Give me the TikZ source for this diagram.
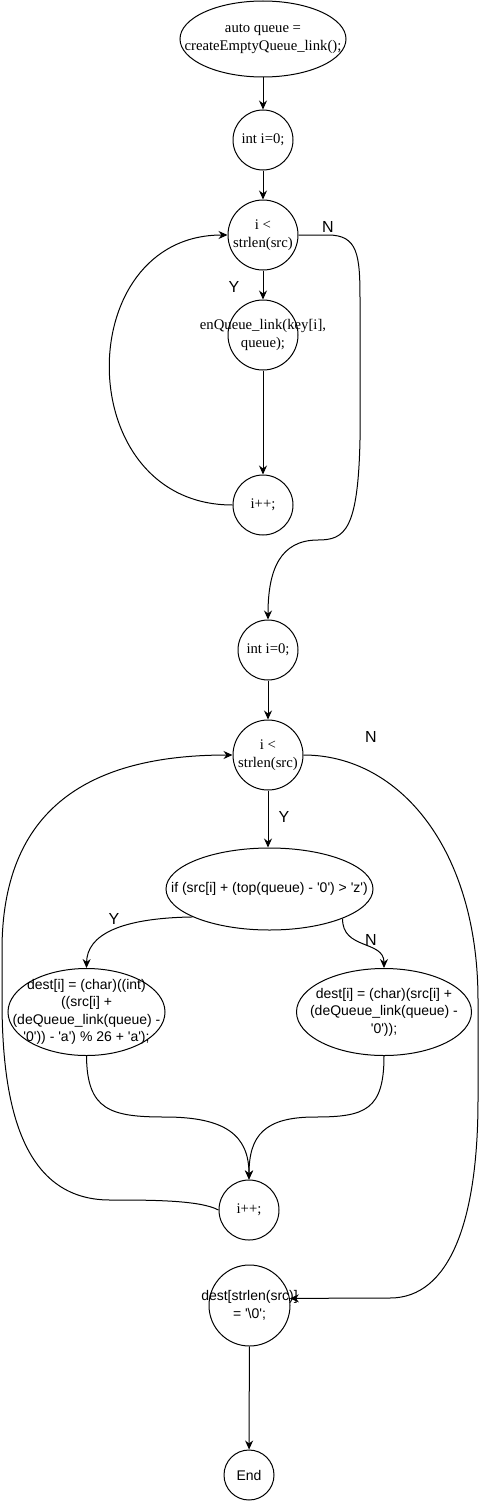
\documentclass[tikz,border=0pt]{standalone}
\usepackage{fontspec}
\setmainfont{Liberation Serif}
\setsansfont{Liberation Sans}
\usepackage{tikz}
\usetikzlibrary{shapes.geometric, arrows.meta, positioning}
\newcommand{\sq}{\textquotesingle}
\tikzset{
    stepcircle/.style={
        circle, draw, line width=1pt, minimum size=#1, inner sep=0pt
    },
    stepellipse/.style 2 args={
        ellipse, draw, line width=1pt, minimum width=#1, minimum height=#2, inner sep=0pt
    },
    seriftxt/.style={
        font=\fontsize{14.7}{17.5}\selectfont, align=center
    },
    sanstxt/.style={
        font=\sffamily\fontsize{14}{17.5}\selectfont, align=center
    },
    flowptr/.style={
        -{Stealth[length=9pt,width=8pt]}, line width=1pt
    },
    branchlbl/.style={
        font=\sffamily\fontsize{16}{18}\selectfont, inner sep=0pt
    }
}

\begin{document}
\begin{tikzpicture}[x=1pt, y=-1pt]
\useasboundingbox (0,0) rectangle (482,1501);
% push loop
\node[stepellipse={166pt}{76pt}, label={[seriftxt]center:{auto queue =\\createEmptyQueue\_link();}}] (create) at (263,39) {};
\node[stepcircle=60pt, label={[seriftxt]center:{int i=0;}}] (initA) at (263,140) {};
\node[stepcircle=70pt, label={[seriftxt]center:{i <\\strlen(src)}}] (condA) at (263,235) {};
\node[stepcircle=70pt, label={[seriftxt]center:{enQueue\_link(key[i],\\queue);}}] (enq) at (263,335) {};
\node[stepcircle=60pt, label={[seriftxt]center:{i++;}}] (incA) at (263,505) {};
\node[branchlbl] (yesA) at (234,287) {Y};
\node[branchlbl] (noA) at (328,227) {N};
\draw[flowptr] (create) -- (initA);
\draw[flowptr] (initA) -- (condA);
\draw[flowptr] (condA) -- (enq);
\draw[flowptr] (enq) -- (incA);
\draw[flowptr] (incA.west) .. controls (70,505) and (70,235) .. (condA.west);
% decode loop
\node[stepcircle=60pt, label={[seriftxt]center:{int i=0;}}] (initB) at (268,650) {};
\node[stepcircle=70pt, label={[seriftxt]center:{i <\\strlen(src)}}] (condB) at (268,755) {};
\node[stepellipse={207pt}{82pt}, label={[sanstxt]center:{if (src[i] + (top(queue) - \sq0\sq) > \sq z\sq)}}] (iftop) at (269.5,889) {};
\node[stepellipse={157pt}{87pt}, label={[sanstxt]center:{dest[i] = (char)((int)\\((src[i] +\\(deQueue\_link(queue) -\\\sq0\sq)) - \sq a\sq) \% 26 + \sq a\sq);}}] (wrapdest) at (86.5,1012) {};
\node[stepellipse={175pt}{87pt}, label={[sanstxt]center:{dest[i] = (char)(src[i] +\\(deQueue\_link(queue) -\\\sq0\sq));}}] (plaindest) at (384,1012) {};
\node[stepcircle=60pt, label={[seriftxt]center:{i++;}}] (incB) at (249,1210) {};
\node[stepcircle=81pt, label={[sanstxt]center:{dest[strlen(src)]\\= \sq\textbackslash0\sq;}}] (term) at (249.5,1305.5) {};
\node[stepcircle=50pt, label={[sanstxt]center:{End}}] (finish) at (249,1475) {};
\node[branchlbl] (noB) at (371,737) {N};
\node[branchlbl] (yesB) at (284,817) {Y};
\node[branchlbl] (yesC) at (114,919) {Y};
\node[branchlbl] (noC) at (371,940) {N};
\draw[flowptr] (condA.east) -- (328,235) .. controls (358,235) and (360,255) .. (360,300) -- (360,440)
    .. controls (358,530) and (345,540) .. (318,540) .. controls (280,540) and (268,570) .. (initB.north);
\draw[flowptr] (initB) -- (condB);
\draw[flowptr] (condB.south) -- (condB.south |- iftop.north);
\draw[flowptr] (iftop.200) .. controls (120,918) and (87,935) .. (wrapdest.north);
\draw[flowptr] (iftop.-22) .. controls (342,950) and (384,940) .. (plaindest.north);
\draw[flowptr] (wrapdest.south) .. controls (87,1110) and (110,1117) .. (165,1117)
    .. controls (225,1117) and (249,1135) .. (incB.north);
\draw[flowptr] (plaindest.south) .. controls (384,1110) and (365,1117) .. (315,1117)
    .. controls (265,1117) and (249,1135) .. (incB.north);
\draw[flowptr] (incB.west) .. controls (200,1200) and (150,1200) .. (110,1200)
    .. controls (20,1200) and (2,1100) .. (2,1000) -- (2,950)
    .. controls (2,800) and (100,755) .. (condB.west);
\draw[flowptr] (condB.east) .. controls (400,755) and (478,850) .. (478,1000) -- (478,1100)
    .. controls (478,1220) and (450,1298) .. (390,1298) -- (term.10);
\draw[flowptr] (term) -- (finish);
\end{tikzpicture}
\end{document}
